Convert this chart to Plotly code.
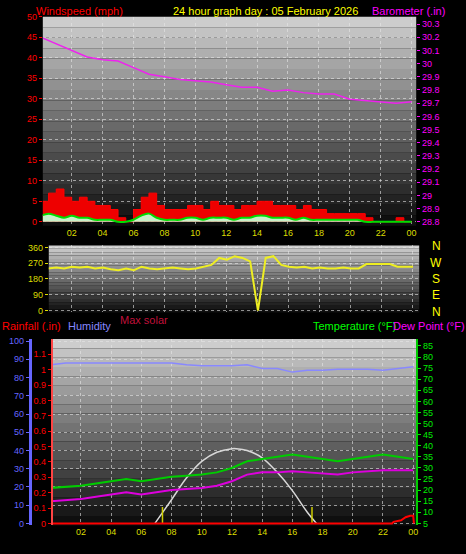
import plotly.graph_objects as go

# ---- data ----
half_hours = [i * 0.5 for i in range(49)]
gust = [5, 7, 8, 6, 5, 6, 5, 4, 4, 3, 1, 0, 3, 6, 7, 4, 3, 3, 3, 4, 4, 3, 5, 4, 4,
        3, 4, 4, 5, 5, 4, 4, 4, 3, 4, 3, 3, 2, 2, 2, 2, 2, 1, 0, 0, 0, 1, 0, 0]
avg_wind = [1.5, 2, 1.5, 1, 1.5, 1, 1, 0.5, 0.5, 0.5, 0, 0, 0.5, 1.5, 2, 1, 0.5, 0.5, 0.5, 1, 1, 0.5, 1, 1, 1,
            0.5, 1, 1, 1.5, 1.5, 1, 1, 1, 0.5, 1, 0.5, 0.5, 0.5, 0.5, 0.5, 0.5, 0.5, 0, 0, 0, 0, 0, 0, 0]
wind_dir = [235, 240, 245, 240, 250, 245, 250, 240, 245, 235, 230, 240, 230, 250, 240, 235, 240, 245, 240, 235,
            240, 250, 260, 300, 290, 310, 300, 280, 0, 300, 310, 260, 250, 245, 250, 240, 245, 240, 240, 245,
            240, 240, 265, 265, 265, 265, 250, 250, 250]

hours = list(range(25))
barometer = [30.2, 30.15, 30.1, 30.05, 30.03, 30.02, 29.97, 29.92, 29.9, 29.88, 29.87, 29.86, 29.84,
             29.82, 29.82, 29.79, 29.8, 29.78, 29.77, 29.77, 29.73, 29.72, 29.71, 29.7, 29.71]
temperature = [21, 21.5, 22, 23, 24, 25, 24, 25, 26, 26.5, 27, 28, 30, 33, 34, 35, 36, 35, 34, 33, 34, 35, 36, 35, 34]
dew_point = [15, 15.5, 16, 17, 18, 19, 18, 19, 20, 20.5, 21, 22, 24, 27, 28, 28, 28.5, 28, 27.5, 27, 28, 28.5, 29, 29, 29]
humidity = [87, 88, 88, 88, 88, 88, 88, 88, 88, 87, 86.5, 86.5, 86.5, 87, 85, 85, 83, 84, 84, 84.5, 84.5, 84.5, 84, 85, 86]

solar_hours = [6.9, 8, 9, 10, 11, 12, 12.3, 13, 14, 15, 16, 17, 17.6]
max_solar = [0, 13, 25, 34, 39, 41, 41, 40, 36, 28, 18, 6, 0]
sun_events = [7.4, 17.3]

rain_hours = [0, 22.6, 22.7, 23.2, 23.5, 23.8, 24.0, 24.05]
rainfall = [0, 0, 0.01, 0.02, 0.04, 0.05, 0.05, 0]

tick_vals = [2, 4, 6, 8, 10, 12, 14, 16, 18, 20, 22, 24]
tick_text = ["02", "04", "06", "08", "10", "12", "14", "16", "18", "20", "22", "00"]

W, H = 466, 554
def px(x): return x / W
def py(y): return 1 - y / H

fig = go.Figure()

# top panel: wind + barometer
fig.add_trace(go.Scatter(x=half_hours, y=gust, mode="lines", line=dict(color="#ff0000", width=1, shape="hv"),
                         fill="tozeroy", fillcolor="#ee0000", xaxis="x", yaxis="y"))
fig.add_trace(go.Scatter(x=half_hours, y=avg_wind, mode="lines", line=dict(color="#00dd00", width=2, shape="spline"),
                         fill="tozeroy", fillcolor="#c8f0c8", xaxis="x", yaxis="y"))
fig.add_trace(go.Scatter(x=hours, y=barometer, mode="lines", line=dict(color="#ee22ee", width=1.5),
                         xaxis="x", yaxis="y2"))
# middle panel: wind direction
fig.add_trace(go.Scatter(x=half_hours, y=wind_dir, mode="lines", line=dict(color="#eeee22", width=2),
                         xaxis="x2", yaxis="y3"))
# bottom panel
fig.add_trace(go.Scatter(x=hours, y=humidity, mode="lines", line=dict(color="#8888ff", width=1.5),
                         xaxis="x3", yaxis="y4"))
fig.add_trace(go.Scatter(x=solar_hours, y=max_solar, mode="lines", line=dict(color="#d8d8d8", width=1.5, shape="spline"),
                         xaxis="x3", yaxis="y4"))
for s in sun_events:
    fig.add_trace(go.Scatter(x=[s, s], y=[0, 9], mode="lines", line=dict(color="#cccc00", width=1.5),
                             xaxis="x3", yaxis="y4"))
fig.add_trace(go.Scatter(x=hours, y=temperature, mode="lines", line=dict(color="#00cc00", width=2),
                         xaxis="x3", yaxis="y6"))
fig.add_trace(go.Scatter(x=hours, y=dew_point, mode="lines", line=dict(color="#dd00dd", width=2),
                         xaxis="x3", yaxis="y6"))
fig.add_trace(go.Scatter(x=rain_hours, y=rainfall, mode="lines", line=dict(color="#ff0000", width=2),
                         xaxis="x3", yaxis="y5"))

# gradient backgrounds
shapes = []
panels = [(43, 418, 12, 224), (49, 421, 244, 312), (52, 418, 339, 528)]
for x0, x1, y0, y1 in panels:
    n = 20
    for i in range(n):
        g = int(205 - 190 * i / (n - 1))
        shapes.append(dict(type="rect", xref="paper", yref="paper", layer="below", line_width=0,
                           x0=px(x0), x1=px(x1), y0=py(y0 + (y1 - y0) * i / n), y1=py(y0 + (y1 - y0) * (i + 1) / n),
                           fillcolor=f"rgb({g},{g},{g})"))

grid = dict(showgrid=True, gridcolor="rgba(230,230,230,0.6)", griddash="dot", gridwidth=1, zeroline=False)
font = dict(family="Liberation Sans, Arial", size=9)

fig.update_layout(
    width=W, height=H, margin=dict(l=0, r=0, t=0, b=0),
    paper_bgcolor="black", plot_bgcolor="rgba(0,0,0,0)", showlegend=False, font=font, shapes=shapes,
    xaxis=dict(domain=[px(43), px(418)], range=[0.13, 24.3], tickvals=tick_vals, ticktext=tick_text,
               tickfont=dict(color="#dddd00", size=9), ticks="", anchor="y", **grid),
    yaxis=dict(domain=[py(224), py(12)], range=[-0.96, 50], dtick=5, tickfont=dict(color="#ff0000", size=9),
               ticks="outside", ticklen=3, tickcolor="#ff0000", anchor="x", **grid),
    yaxis2=dict(overlaying="y", side="right", range=[28.77, 30.355], dtick=0.1, tickformat="~g",
                tickfont=dict(color="#ff00ff", size=9), ticks="outside", ticklen=3, tickcolor="#ff00ff",
                showgrid=False, zeroline=False, anchor="x"),
    xaxis2=dict(domain=[px(49), px(421)], range=[0.51, 24.4], tickvals=tick_vals, showticklabels=False,
                ticks="", anchor="y3", **grid),
    yaxis3=dict(domain=[py(312), py(244)], range=[-11, 371], tickvals=[0, 90, 180, 270, 360],
                tickfont=dict(color="#dddd00", size=9), ticks="outside", ticklen=3, tickcolor="#dddd00",
                anchor="x2", **grid),
    xaxis3=dict(domain=[px(52), px(418)], range=[0.07, 24.2], tickvals=tick_vals, ticktext=tick_text,
                tickfont=dict(color="#dddd00", size=9), ticks="", anchor="y4", **grid),
    yaxis4=dict(domain=[py(528), py(339)], range=[-1.08, 101.1], dtick=10, tickfont=dict(color="#6666ff", size=9),
                anchor="free", position=px(30), showline=True, linecolor="#6666ff", linewidth=3,
                ticks="outside", ticklen=3, tickcolor="#6666ff", **grid),
    yaxis5=dict(overlaying="y4", range=[-0.0128, 1.199], dtick=0.1, tickformat="~g",
                tickfont=dict(color="#ff0000", size=9), anchor="free", position=px(52), side="left",
                showline=True, linecolor="#ff4444", linewidth=2, ticks="outside", ticklen=3, tickcolor="#ff0000",
                showgrid=False, zeroline=False),
    yaxis6=dict(overlaying="y4", side="right", range=[4.1, 88.1], dtick=5,
                tickfont=dict(color="#00ee00", size=9), anchor="x3", showline=True, linecolor="#00cc00",
                linewidth=2, ticks="outside", ticklen=3, tickcolor="#00ee00", showgrid=False, zeroline=False),
)

ann = [
    ("Windspeed (mph)", 34, 6, "#ff0000"),
    ("24 hour graph day : 05 February 2026", 172, 6, "#ffff00"),
    ("Barometer (.in)", 372, 6, "#ff00ff"),
    ("Max solar", 119, 320, "#c0103a"),
    ("Rainfall (.in)", 0, 326, "#ff0000"),
    ("Humidity", 66, 326, "#8888ff"),
    ("Temperature (°F)", 312, 326, "#00ff00"),
    ("Dew Point (°F)", 393, 326, "#ff00ff"),
]
for text, x, y, c in ann:
    fig.add_annotation(text=text, x=px(x), y=py(y), xref="paper", yref="paper", showarrow=False,
                       xanchor="left", yanchor="middle", font=dict(color=c, size=11, family="Liberation Sans, Arial"))
for i, letter in enumerate(["N", "W", "S", "E", "N"]):
    fig.add_annotation(text=letter, x=px(438), y=py(245 + i * 16.5), xref="paper", yref="paper", showarrow=False,
                       xanchor="center", yanchor="middle", font=dict(color="#ffff00", size=12))

fig.write_html("out.html", config={"displayModeBar": False},
               post_script="document.body.style.margin='0';document.body.style.background='black';")
